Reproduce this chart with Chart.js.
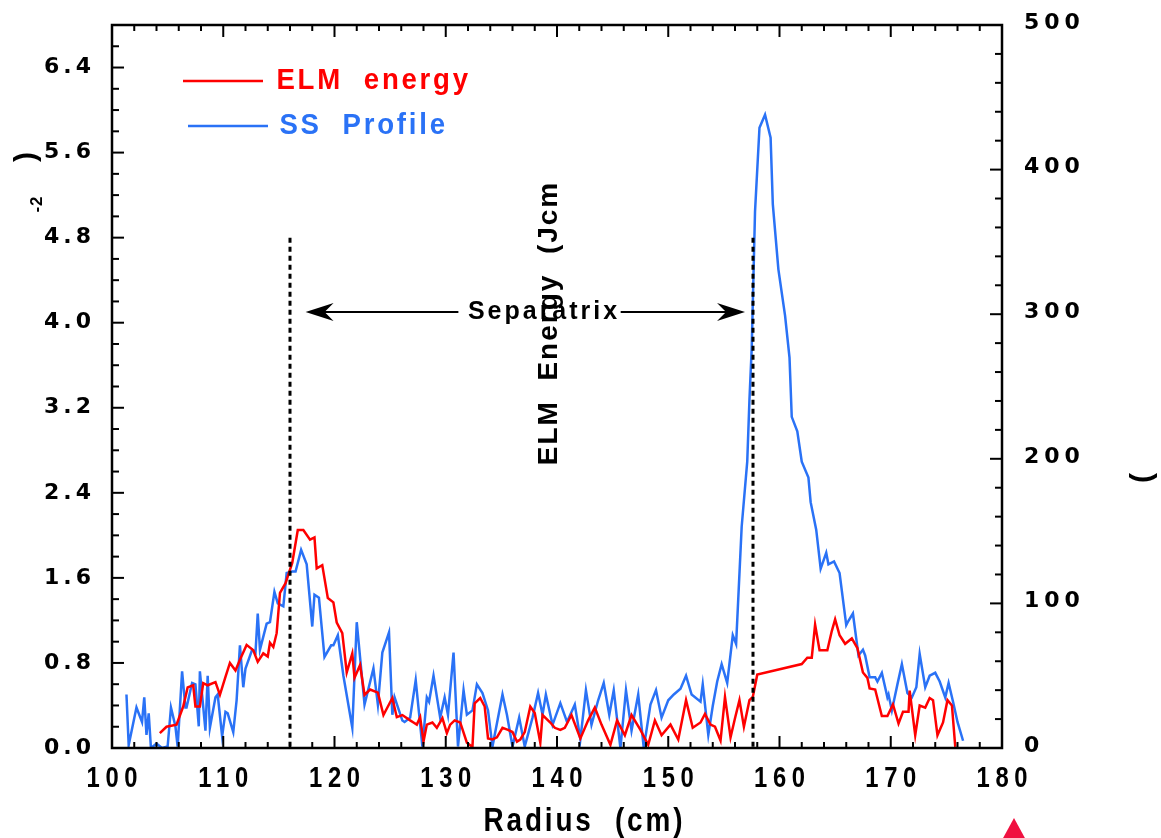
<!DOCTYPE html>
<html><head><meta charset="utf-8">
<script src="https://cdn.jsdelivr.net/npm/chart.js@4/dist/chart.umd.min.js"></script>
<style>html,body{margin:0;padding:0;background:#fff}#wrap{width:1161px;height:838px;position:relative}</style>
</head><body><div id="wrap"><canvas id="c" width="1161" height="838"></canvas></div>
<script>
// ---- data ----
const elmRadius = [104.3,104.9,105.8,106.4,106.8,107.3,107.5,107.9,108.2,108.6,
109.3,109.7,110.2,110.6,111.1,111.5,112.1,112.7,113.1,113.6,
114.0,114.2,114.5,114.8,115.1,115.6,116.2,116.7,117.2,117.8,
118.2,118.4,118.9,119.4,119.9,120.2,120.7,121.1,121.6,121.8,
122.3,122.7,123.2,123.9,124.4,124.8,125.2,125.6,126.1,126.8,
127.1,127.4,127.7,128.0,128.3,128.8,129.2,129.7,130.1,130.4,
130.8,131.3,131.9,132.4,132.6,133.1,133.5,133.8,134.2,134.6,
135.1,135.6,136.0,136.4,136.7,137.1,137.6,138.0,138.5,138.7,
139.4,139.8,140.3,140.7,141.3,142.1,142.8,143.4,144.0,144.8,
145.4,146.1,146.7,147.5,148.2,148.8,149.4,150.2,150.9,151.6,
152.2,152.9,153.3,153.8,154.2,154.7,155.1,155.6,156.0,156.4,
156.8,157.3,157.6,158.0,162.0,162.5,162.9,163.2,163.6,164.3,
164.7,165.0,165.4,165.9,166.5,167.0,167.5,167.9,168.1,168.6,
169.2,169.7,170.2,170.7,171.1,171.6,171.7,172.2,172.6,173.1,
173.5,173.8,174.2,174.7,175.1,175.5,175.8];
const elmEnergy = [0.14,0.20,0.22,0.39,0.57,0.59,0.39,0.39,0.61,0.59,
0.62,0.50,0.67,0.80,0.73,0.83,0.97,0.92,0.81,0.89,
0.86,0.99,0.95,1.08,1.46,1.55,1.74,2.05,2.05,1.96,
1.98,1.69,1.72,1.41,1.37,1.18,1.08,0.71,0.89,0.66,
0.78,0.50,0.55,0.52,0.31,0.39,0.47,0.29,0.31,0.26,
0.24,0.22,0.29,0.06,0.22,0.24,0.19,0.28,0.14,0.22,
0.26,0.24,0.05,0.01,0.42,0.47,0.39,0.09,0.08,0.10,
0.19,0.17,0.15,0.06,0.08,0.15,0.39,0.33,0.05,0.31,
0.24,0.19,0.17,0.19,0.31,0.09,0.26,0.38,0.22,0.03,
0.26,0.12,0.31,0.17,0.03,0.26,0.12,0.22,0.08,0.45,
0.19,0.24,0.32,0.22,0.20,0.07,0.48,0.10,0.28,0.45,
0.20,0.45,0.48,0.69,0.79,0.85,0.85,1.16,0.92,0.92,
1.10,1.21,1.06,0.98,1.03,0.94,0.71,0.66,0.56,0.55,
0.30,0.30,0.41,0.23,0.34,0.34,0.54,0.12,0.40,0.38,
0.47,0.45,0.12,0.24,0.45,0.40,0.01];
const ssRadius = [101.3,101.5,102.2,102.7,102.9,103.1,103.3,103.5,104.0,104.5,
105.0,105.3,105.7,105.9,106.3,106.6,106.7,107.2,107.5,107.8,
107.9,108.4,108.6,108.8,109.3,109.5,109.9,110.2,110.4,110.9,
111.2,111.5,111.8,112.0,112.6,112.9,113.1,113.3,113.9,114.2,
114.6,114.9,115.4,115.7,116.2,116.5,117.0,117.5,118.0,118.2,
118.6,119.1,119.7,119.9,120.3,120.8,121.6,122.0,122.7,123.5,
123.9,124.3,124.9,125.2,125.4,126.1,126.3,126.8,127.3,127.9,
128.3,128.5,128.9,129.5,129.9,130.2,130.7,131.1,131.6,131.9,
132.4,132.8,133.3,133.8,134.2,135.1,135.5,136.0,136.6,137.1,
137.8,138.3,138.7,139.0,139.6,140.3,140.9,141.6,142.1,142.6,
143.1,143.7,144.2,144.7,145.1,145.7,146.2,146.7,147.3,147.8,
148.4,148.9,149.4,150.0,150.5,151.1,151.6,152.1,152.9,153.1,
153.6,154.0,154.4,154.8,155.3,155.8,156.1,156.6,157.1,157.3,
157.5,157.8,158.2,158.7,159.2,159.4,159.9,160.5,160.9,161.1,
161.6,162.0,162.6,162.8,163.3,163.7,164.2,164.4,164.9,165.4,
166.0,166.2,166.6,167.1,167.5,167.7,168.1,168.6,168.8,169.2,
169.7,169.8,170.1,170.6,171.0,171.5,171.9,172.3,172.6,173.1,
173.5,174.0,174.4,174.9,175.2,175.6,176.0,176.5];
const ssProfile = [37,2,28,18,35,9,24,0,3,0,
1,28,15,1,53,28,28,45,44,15,
53,12,50,14,35,37,8,25,24,11,
33,71,42,55,68,66,93,68,86,87,
108,100,98,121,122,122,137,127,84,106,
104,63,71,71,78,50,14,87,30,55,
30,66,80,23,35,19,18,21,47,1,
35,32,50,21,35,23,66,1,40,23,
26,44,38,26,1,37,23,1,21,1,
21,38,23,37,16,31,18,30,6,40,
16,33,45,23,40,0,40,12,37,0,
30,40,21,33,37,41,50,37,32,44,
9,29,46,58,45,78,72,153,198,241,
276,371,429,438,422,376,331,299,270,229,
219,198,187,170,151,124,135,127,129,121,
85,88,93,64,68,64,49,49,46,52,
35,37,26,44,58,38,35,42,65,42,
50,52,46,35,45,32,18,5];
const seriesNames = ['ELM  energy', 'SS  Profile'];
const xTickLabels = ['100','110','120','130','140','150','160','170','180'];
const leftTickLabels = ['0.0','0.8','1.6','2.4','3.2','4.0','4.8','5.6','6.4'];
const rightTickLabels = ['0','100','200','300','400','500'];
const separatrixRadius = [116.0, 157.6];
const separatrixTop = 4.8;
const arrowLevel = 4.1;
const arrowTips = [117.4, 156.9];
const annotationText = 'Separatrix';
const annotationCenter = 138.7;
const xTitle = 'Radius  (cm)';
const yTitleMain = 'ELM  Energy  (Jcm';

const RED = '#ff0000', BLUE = '#2a72f6';

function spaced(ctx, txt, x, y, sp) {
  try { ctx.letterSpacing = sp + 'px'; } catch (e) {}
  ctx.fillText(txt, x, y);
}
function squeezed(ctx, txt, x, y, sp, sx) {
  ctx.save(); ctx.translate(x, y); ctx.scale(sx, 1);
  spaced(ctx, txt, sp / 2, 0, sp);
  ctx.restore();
}

const decor = {
  id: 'decor',
  afterDatasetsDraw(chart) {
    const ctx = chart.ctx, a = chart.chartArea;
    const xs = chart.scales.x, ys = chart.scales.y, y2 = chart.scales.y2;
    ctx.save();
    // dashed separatrix lines
    ctx.strokeStyle = '#000'; ctx.lineWidth = 3; ctx.setLineDash([5, 4]);
    separatrixRadius.forEach(r => {
      const px = Math.round(xs.getPixelForValue(r));
      ctx.beginPath(); ctx.moveTo(px, ys.getPixelForValue(separatrixTop)); ctx.lineTo(px, a.bottom); ctx.stroke();
    });
    ctx.setLineDash([]);
    // frame
    ctx.lineWidth = 2.5; ctx.strokeStyle = '#000';
    ctx.strokeRect(a.left, a.top, a.right - a.left, a.bottom - a.top);
    // ticks (inward)
    ctx.lineWidth = 2;
    xs.ticks.forEach(t => {
      const px = xs.getPixelForValue(t.value);
      const len = Math.abs(t.value % 10) < 1e-6 ? 12 : 6;
      ctx.beginPath(); ctx.moveTo(px, a.bottom); ctx.lineTo(px, a.bottom - len);
      ctx.moveTo(px, a.top); ctx.lineTo(px, a.top + len); ctx.stroke();
    });
    ys.ticks.forEach(t => {
      const py = ys.getPixelForValue(t.value);
      const k = Math.round(t.value / 0.2);
      const len = k % 4 === 0 ? 12 : 7;
      ctx.beginPath(); ctx.moveTo(a.left, py); ctx.lineTo(a.left + len, py); ctx.stroke();
    });
    y2.ticks.forEach(t => {
      const py = y2.getPixelForValue(t.value);
      const len = t.value % 100 === 0 ? 12 : 7;
      ctx.beginPath(); ctx.moveTo(a.right, py); ctx.lineTo(a.right - len, py); ctx.stroke();
    });
    // tick labels
    ctx.fillStyle = '#000'; ctx.textBaseline = 'middle';
    ctx.font = 'bold 29px "Liberation Sans", Arial, sans-serif';
    ctx.textAlign = 'center';
    xTickLabels.forEach(l => squeezed(ctx, l, xs.getPixelForValue(parseFloat(l)), 779, 7, 0.82));
    ctx.font = 'bold 22px "DejaVu Sans", sans-serif';
    ctx.textAlign = 'right';
    leftTickLabels.forEach(l => spaced(ctx, l, 95, ys.getPixelForValue(parseFloat(l)), 4));
    ctx.textAlign = 'left';
    rightTickLabels.forEach(l => spaced(ctx, l, 1024, y2.getPixelForValue(parseFloat(l)) - 2, 5));
    // x title
    ctx.textAlign = 'center';
    ctx.font = 'bold 34px "Liberation Sans", Arial, sans-serif';
    squeezed(ctx, xTitle, 583, 822, 3.5, 0.82);
    // legend
    chart.data.datasets.forEach((ds, i) => {
      const ly = [81, 126][i], lx0 = [183, 188][i], tx = [275, 278][i];
      ctx.strokeStyle = ds.borderColor; ctx.lineWidth = 2.5;
      ctx.beginPath(); ctx.moveTo(lx0, ly); ctx.lineTo(lx0 + 80, ly); ctx.stroke();
      ctx.fillStyle = ds.borderColor; ctx.textAlign = 'left';
      ctx.font = 'bold 30px "Liberation Sans", Arial, sans-serif';
      squeezed(ctx, ds.label, tx, ly, 3, 0.92);
    });
    // separatrix annotation
    const ay = ys.getPixelForValue(arrowLevel);
    ctx.fillStyle = '#000'; ctx.strokeStyle = '#000';
    ctx.font = 'bold 25px "Liberation Sans", Arial, sans-serif';
    try { ctx.letterSpacing = '3px'; } catch (e) {}
    const cx = xs.getPixelForValue(annotationCenter);
    const tw = ctx.measureText(annotationText).width;
    ctx.textAlign = 'center';
    ctx.fillText(annotationText, cx + 1.5, ay);
    ctx.lineWidth = 2;
    const lt = xs.getPixelForValue(arrowTips[0]), rt = xs.getPixelForValue(arrowTips[1]);
    ctx.beginPath(); ctx.moveTo(lt + 10, ay); ctx.lineTo(cx - tw / 2 - 8, ay);
    ctx.moveTo(cx + tw / 2 + 2, ay); ctx.lineTo(rt - 10, ay); ctx.stroke();
    [[lt, 1], [rt, -1]].forEach(([tx, d]) => {
      ctx.beginPath(); ctx.moveTo(tx, ay); ctx.lineTo(tx + d * 28, ay - 9);
      ctx.lineTo(tx + d * 19, ay); ctx.lineTo(tx + d * 28, ay + 9); ctx.closePath(); ctx.fill();
    });
    // rotated axis title fragments
    ctx.textBaseline = 'middle'; ctx.textAlign = 'center';
    ctx.save(); ctx.translate(549, 324); ctx.rotate(-Math.PI / 2);
    ctx.font = 'bold 28px "Liberation Sans", Arial, sans-serif';
    spaced(ctx, yTitleMain, 1, 0, 2);
    ctx.restore();
    ctx.save(); ctx.translate(27, 157); ctx.rotate(-Math.PI / 2);
    ctx.font = 'bold 30px "Liberation Sans", Arial, sans-serif';
    spaced(ctx, ')', 0, 0, 0);
    ctx.restore();
    ctx.save(); ctx.translate(37, 204); ctx.rotate(-Math.PI / 2);
    ctx.font = 'bold 17px "Liberation Sans", Arial, sans-serif';
    spaced(ctx, '-2', 0, 0, 1);
    ctx.restore();
    ctx.save(); ctx.translate(1143, 478); ctx.rotate(-Math.PI / 2);
    ctx.font = 'bold 30px "Liberation Sans", Arial, sans-serif';
    spaced(ctx, '(', 0, 0, 0);
    ctx.restore();
    // red marker triangle
    ctx.fillStyle = '#f01040';
    ctx.beginPath(); ctx.moveTo(1014, 818); ctx.lineTo(1026, 840); ctx.lineTo(1002, 840); ctx.closePath(); ctx.fill();
    ctx.restore();
  }
};

new Chart(document.getElementById('c'), {
  type: 'line',
  data: {
    datasets: [
      { label: seriesNames[0], data: elmRadius.map((r, i) => ({ x: r, y: elmEnergy[i] })),
        yAxisID: 'y', borderColor: RED, borderWidth: 2.5, pointRadius: 0, tension: 0, fill: false },
      { label: seriesNames[1], data: ssRadius.map((r, i) => ({ x: r, y: ssProfile[i] })),
        yAxisID: 'y2', borderColor: BLUE, borderWidth: 2.5, pointRadius: 0, tension: 0, fill: false }
    ]
  },
  options: {
    responsive: false, animation: false, devicePixelRatio: 1,
    layout: { padding: { top: 25, left: 0, right: 0, bottom: 0 } },
    plugins: { legend: { display: false }, tooltip: { enabled: false } },
    scales: {
      x: { type: 'linear', min: 100, max: 180, ticks: { display: false, stepSize: 2 },
           grid: { display: false }, border: { display: false },
           afterFit: s => { s.height = 90; } },
      y: { position: 'left', min: 0, max: 6.8, ticks: { display: false, stepSize: 0.2 },
           grid: { display: false }, border: { display: false },
           afterFit: s => { s.width = 112; } },
      y2: { position: 'right', min: 0, max: 500, ticks: { display: false, stepSize: 20 },
            grid: { display: false }, border: { display: false },
            afterFit: s => { s.width = 159; } }
    }
  },
  plugins: [decor]
});
</script>
</body></html>
